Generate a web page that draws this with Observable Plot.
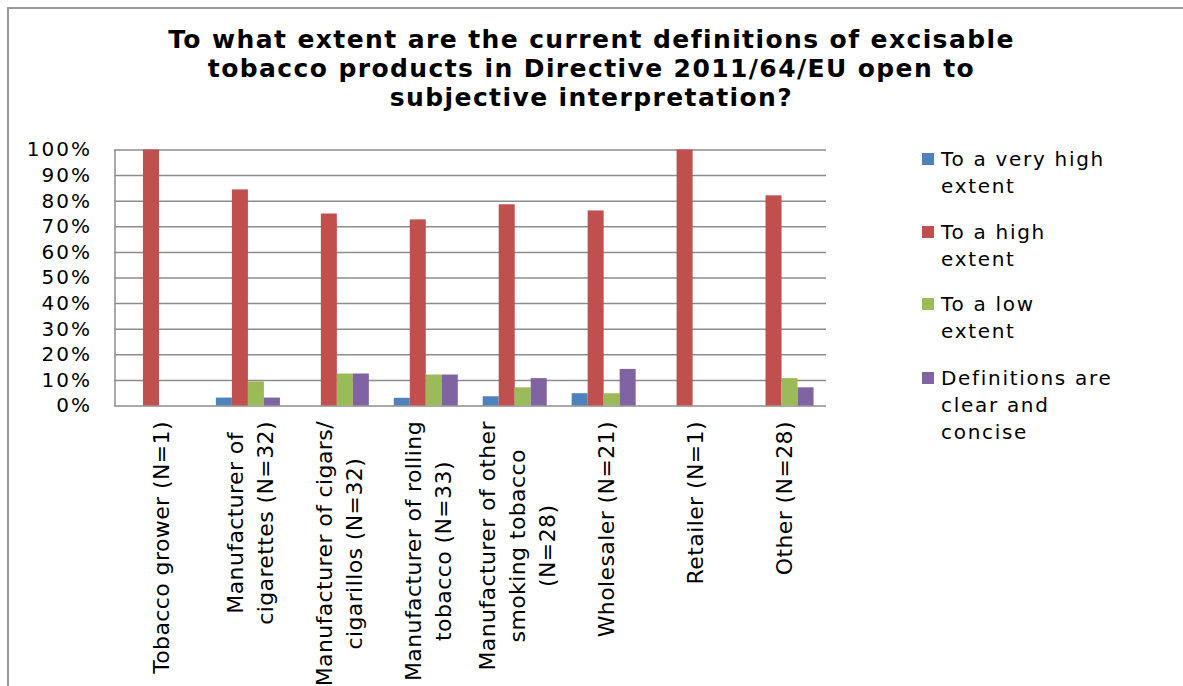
<!DOCTYPE html>
<html><head><meta charset="utf-8">
<script src="https://cdn.jsdelivr.net/npm/d3@7"></script>
<script src="https://cdn.jsdelivr.net/npm/@observablehq/plot@0.6"></script>
<style>
html,body{margin:0;padding:0;background:#fff;overflow:hidden;}
#wrap{position:relative;width:1183px;height:686px;font-family:"DejaVu Sans",Verdana,sans-serif;color:#000;}
#border{position:absolute;left:7px;top:7px;width:1300px;height:800px;border:2px solid #9a9a9a;box-sizing:border-box;}
#title{position:absolute;left:0;top:25px;width:1183px;text-align:center;font-weight:bold;font-size:25px;letter-spacing:1.4px;line-height:29px;}
#chart{position:absolute;left:0;top:135px;}
#legend{position:absolute;left:922px;top:146px;}
.item{position:absolute;left:0;width:260px;}
.sw{position:absolute;left:0;top:7px;width:12px;height:12px;}
.lt{position:absolute;left:19px;top:0;width:174px;font-size:20px;letter-spacing:1.7px;line-height:27px;}
g[aria-label="text"] text{letter-spacing:0.4px;}
g[aria-label="y-axis tick label"] text{letter-spacing:2px;}
</style></head>
<body>
<div id="wrap">
  <div id="border"></div>
  <div id="title"></div>
  <div id="chart"></div>
  <div id="legend"></div>
</div>
<script>
const titleLines = ["To what extent are the current definitions of excisable", "tobacco products in Directive 2011/64/EU open to", "subjective interpretation?"];
const categories = ["Tobacco grower (N=1)", "Manufacturer of cigarettes (N=32)", "Manufacturer of cigars/ cigarillos (N=32)", "Manufacturer of rolling tobacco (N=33)", "Manufacturer of other smoking tobacco (N=28)", "Wholesaler (N=21)", "Retailer (N=1)", "Other (N=28)"];
const tickLabels = ["Tobacco grower (N=1)", "Manufacturer of\ncigarettes (N=32)", "Manufacturer of cigars/\ncigarillos (N=32)", "Manufacturer of rolling\ntobacco (N=33)", "Manufacturer of other\nsmoking tobacco\n(N=28)", "Wholesaler (N=21)", "Retailer (N=1)", "Other (N=28)"];
const seriesNames = ["To a very high extent", "To a high extent", "To a low extent", "Definitions are clear and concise"];
const veryHigh = [0, 0.031, 0, 0.030, 0.036, 0.048, 0, 0];
const high     = [1, 0.844, 0.750, 0.727, 0.786, 0.762, 1, 0.821];
const low      = [0, 0.094, 0.125, 0.121, 0.071, 0.048, 0, 0.107];
const clear    = [0, 0.031, 0.125, 0.121, 0.107, 0.143, 0, 0.071];
const yTicks = [0, 0.1, 0.2, 0.3, 0.4, 0.5, 0.6, 0.7, 0.8, 0.9, 1];
const colors = ["#4F81BD", "#C0504D", "#9BBB59", "#8064A2"];

const seriesValues = [veryHigh, high, low, clear];
const rows = [];
seriesValues.forEach((vals, si) => vals.forEach((v, ci) => rows.push({cat: categories[ci], series: seriesNames[si], value: v})));
const labelRows = categories.map((c, i) => ({cat: c, label: tickLabels[i]}));

document.getElementById("title").innerHTML = titleLines.join("<br>");
const legend = document.getElementById("legend");
const legendTops = [0, 73, 145, 219];
seriesNames.forEach((s, i) => {
  const it = document.createElement("div");
  it.className = "item"; it.style.top = legendTops[i] + "px";
  it.innerHTML = `<div class="sw" style="background:${colors[i]}"></div><div class="lt">${s}</div>`;
  legend.appendChild(it);
});

const W = 1183, H = 551, mL = 114.5, mR = 357, mT = 14.5, mB = 280.5;
const step = (W - mL - mR) / categories.length;
const outer = 0.14 * step, barW = 0.72 * step / seriesNames.length;
const grid = "#8c8c8c";

const svg = Plot.plot({
  width: W, height: H,
  marginLeft: mL, marginRight: mR, marginTop: mT, marginBottom: mB,
  style: {fontFamily: '"DejaVu Sans", Verdana, sans-serif', color: "#000", background: "transparent"},
  x: {domain: categories, padding: 0, round: false, axis: null},
  y: {domain: [0, 1], axis: null},
  marks: [
    Plot.ruleY(yTicks, {stroke: grid, strokeWidth: 1.5}),
    Plot.frame({anchor: "left", stroke: grid, strokeWidth: 1.5}),
    ...seriesNames.map((s, i) => Plot.barY(rows.filter(r => r.series === s && r.value > 0), {
      x: "cat", y: "value", fill: colors[i],
      insetLeft: outer + barW * i, insetRight: step - outer - barW * (i + 1)
    })),
    Plot.axisY(yTicks, {tickFormat: d3.format(".0%"), tickSize: 0, tickPadding: 23, fontSize: 20, label: null}),
    Plot.text(labelRows, {x: "cat", text: "label", frameAnchor: "bottom", rotate: -90, textAnchor: "end", lineAnchor: "middle", lineHeight: 1.36, dy: 15, fontSize: 22})
  ]
});
document.getElementById("chart").appendChild(svg);
svg.querySelectorAll('g[aria-label="text"] text').forEach(t => {
  const spans = t.querySelectorAll("tspan");
  if (spans.length < 2) return;
  let L = 0;
  spans.forEach(s => { L = Math.max(L, s.getComputedTextLength()); });
  t.setAttribute("text-anchor", "middle");
  spans.forEach(s => s.setAttribute("x", -L / 2));
});
</script>
</body></html>
